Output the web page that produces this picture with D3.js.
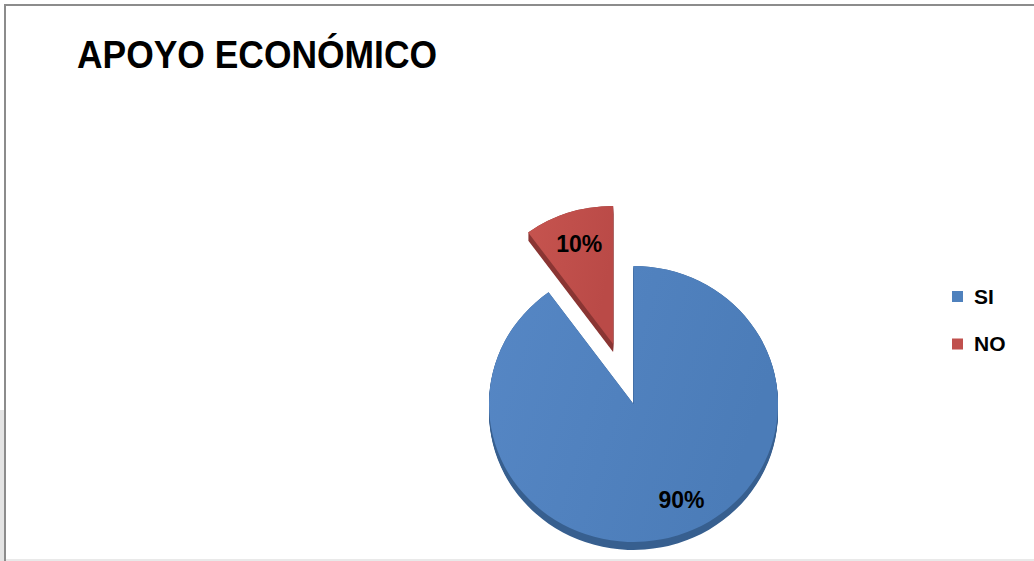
<!DOCTYPE html>
<html>
<head>
<meta charset="utf-8">
<script src="https://cdn.jsdelivr.net/npm/d3@7"></script>
<style>
  html, body { margin: 0; padding: 0; background: #fff; }
  svg { display: block; }
</style>
</head>
<body>
<svg id="chart" width="1034" height="561"></svg>
<script>
// ---- data ----
const title = "APOYO ECONÓMICO";
const categories = ["SI", "NO"];
const values = [90, 10];
const pctLabels = ["90%", "10%"];
const colors = ["#4F81BD", "#C0504D"];
const sideColors = ["#375F8F", "#8A3533"];
const exploded = [false, true];

// ---- layout ----
const W = 1034, H = 561;
const cx = 633.5, cy = 404, R = 144.5, ky = 0.955, depth = 8, explodeDist = 66;

const svg = d3.select("#chart");

// frame
svg.append("rect").attr("x", 0).attr("y", 410).attr("width", 4).attr("height", H - 410).attr("fill", "#e4e4e4");
svg.append("line").attr("x1", 4).attr("y1", 5).attr("x2", W).attr("y2", 5).attr("stroke", "#8c8c8c").attr("stroke-width", 2);
svg.append("line").attr("x1", 5).attr("y1", 4).attr("x2", 5).attr("y2", H).attr("stroke", "#8c8c8c").attr("stroke-width", 2);
svg.append("line").attr("x1", 6).attr("y1", 560).attr("x2", W).attr("y2", 560).attr("stroke", "#e2e2e2").attr("stroke-width", 1.5);

// title
svg.append("text")
  .attr("x", 77).attr("y", 68)
  .attr("font-family", "'Liberation Sans', Arial, sans-serif")
  .attr("font-weight", "bold")
  .attr("font-size", 38)
  .attr("textLength", 360)
  .attr("lengthAdjust", "spacingAndGlyphs")
  .attr("fill", "#000")
  .text(title);

// gradients
const defs = svg.append("defs");
const grads = [["#5687C5", "#4B7CB8"], ["#C6544F", "#BA4A47"]];
grads.forEach((g, i) => {
  const lg = defs.append("linearGradient").attr("id", "g" + i)
    .attr("x1", "0%").attr("y1", "0%").attr("x2", "100%").attr("y2", "30%");
  lg.append("stop").attr("offset", "0%").attr("stop-color", g[0]);
  lg.append("stop").attr("offset", "100%").attr("stop-color", g[1]);
});

const pie = d3.pie().sort(null).value(d => d);
const arcs = pie(values);
const arc = d3.arc().innerRadius(0).outerRadius(R);
const labelArc = d3.arc().innerRadius(R * 0.76).outerRadius(R * 0.76);

function offsetOf(a, i) {
  if (!exploded[i]) return [0, 0];
  const mid = (a.startAngle + a.endAngle) / 2;
  return [explodeDist * Math.sin(mid), -explodeDist * Math.cos(mid) * ky];
}

// side (depth) layers
arcs.forEach((a, i) => {
  const [ox, oy] = offsetOf(a, i);
  const g = svg.append("g").attr("transform", `translate(${cx + ox},${cy + oy + depth}) scale(1,${ky})`);
  for (let k = depth; k >= 0; k -= 1) {
    g.append("path").attr("d", arc(a))
      .attr("transform", `translate(0,${-k / ky})`)
      .attr("fill", sideColors[i]);
  }
});

// top faces
arcs.forEach((a, i) => {
  const [ox, oy] = offsetOf(a, i);
  svg.append("g").attr("transform", `translate(${cx + ox},${cy + oy}) scale(1,${ky})`)
    .append("path").attr("d", arc(a)).attr("fill", `url(#g${i})`);
});

// labels
arcs.forEach((a, i) => {
  const [ox, oy] = offsetOf(a, i);
  const c = labelArc.centroid(a);
  svg.append("text")
    .attr("x", cx + ox + c[0] + (i === 0 ? 14 : 0))
    .attr("y", cy + oy + c[1] * ky + (i === 0 ? -4 : 0))
    .attr("dy", "0.35em")
    .attr("text-anchor", "middle")
    .attr("font-family", "'Liberation Sans', Arial, sans-serif")
    .attr("font-weight", "bold")
    .attr("font-size", 23)
    .attr("fill", "#000")
    .text(pctLabels[i]);
});

// legend
const legend = svg.append("g");
categories.forEach((c, i) => {
  const y = 291 + i * 47.5;
  legend.append("rect").attr("x", 952).attr("y", y).attr("width", 11).attr("height", 11).attr("fill", colors[i]);
  legend.append("text").attr("x", 974).attr("y", y + 12.5)
    .attr("font-family", "'Liberation Sans', Arial, sans-serif")
    .attr("font-weight", "bold").attr("font-size", 21).attr("fill", "#000")
    .text(c);
});
</script>
</body>
</html>
